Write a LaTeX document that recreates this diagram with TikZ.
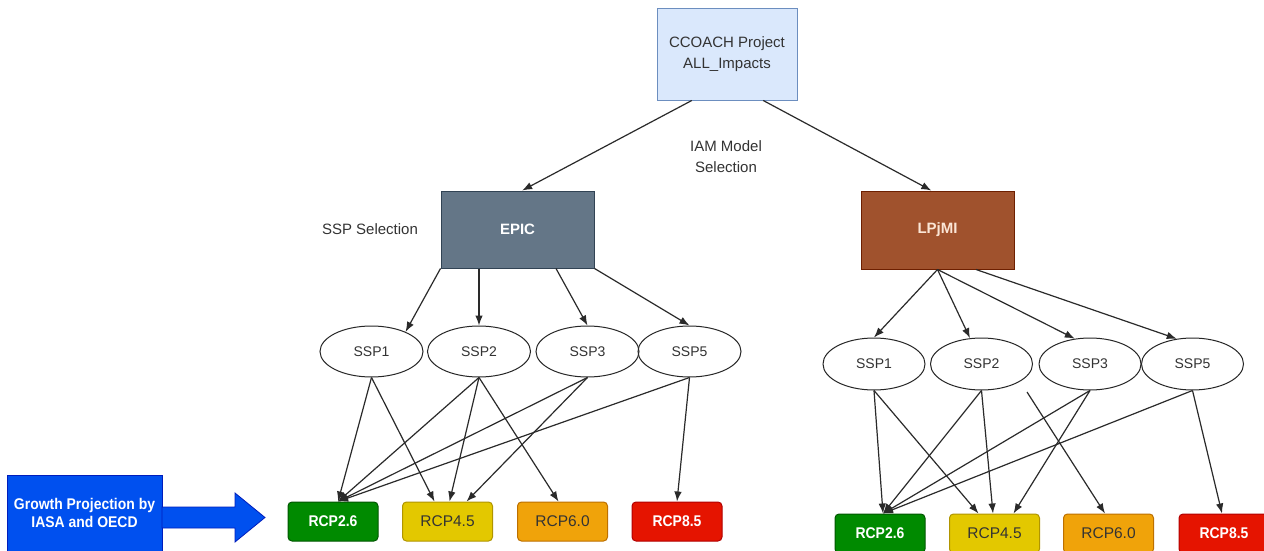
\documentclass[tikz,border=0pt]{standalone}
\usepackage{fontspec}
\setmainfont{Liberation Sans}
\usetikzlibrary{calc,arrows.meta,shapes.geometric}
\definecolor{ccfill}{HTML}{DAE8FC}
\definecolor{ccdraw}{HTML}{6C8EBF}
\definecolor{epfill}{HTML}{647687}
\definecolor{epdraw}{HTML}{314354}
\definecolor{lpfill}{HTML}{A0522D}
\definecolor{lpdraw}{HTML}{6D1F00}
\definecolor{lptext}{HTML}{FBE6D6}
\definecolor{gfill}{HTML}{008A00}
\definecolor{gdraw}{HTML}{005700}
\definecolor{yfill}{HTML}{E3C800}
\definecolor{ydraw}{HTML}{B09500}
\definecolor{ofill}{HTML}{F0A30A}
\definecolor{odraw}{HTML}{BD7000}
\definecolor{rfill}{HTML}{E51400}
\definecolor{rdraw}{HTML}{B20000}
\definecolor{bfill}{HTML}{0050EF}
\definecolor{bdraw}{HTML}{001DBC}
\definecolor{txt}{HTML}{333333}
\definecolor{edge}{HTML}{2A2A2A}
\begin{document}
\begin{tikzpicture}[x=1pt,y=-1pt,
  box/.style={draw, line width=1pt, rectangle, inner sep=0pt, align=center},
  rcp/.style={box, rounded corners=4pt, minimum width=90pt, minimum height=39pt, font=\fontsize{15.5}{18}\selectfont},
  sspnode/.style={ellipse, draw=black!85, line width=1pt, inner sep=0pt, minimum width=103pt, minimum height=51pt, font=\fontsize{14}{16}\selectfont, text=txt},
  lbl/.style={align=center, text=txt, font=\fontsize{15}{21}\selectfont},
  arr/.style={draw=edge, line width=1.2pt, -{Latex[length=10pt,width=7.5pt]}}
]
\useasboundingbox (0,0) rectangle (1264,551);
\fill[white] (0,0) rectangle (1264,551);

% top
\node[box, fill=ccfill, draw=ccdraw, minimum width=140pt, minimum height=91pt, text=txt, font=\fontsize{15}{21}\selectfont] (cc) at (727,54.5) {CCOACH Project\\ALL\_Impacts};
\node[lbl] (iam) at (726,157) {IAM Model\\Selection};
\node[lbl] (sspsel) at (370,229) {SSP Selection};

% models
\node[box, fill=epfill, draw=epdraw, minimum width=153pt, minimum height=77pt, text=white, font=\fontsize{15}{18}\selectfont\bfseries] (epic) at (517.5,229.5) {EPIC};
\node[box, fill=lpfill, draw=lpdraw, minimum width=153pt, minimum height=78pt, text=lptext, font=\fontsize{15}{18}\selectfont\bfseries] (lpj) at (937.5,230) {LPjMI};

% SSP left
\node[sspnode] (l1) at (371.5,351.5) {SSP1};
\node[sspnode] (l2) at (479,351.5) {SSP2};
\node[sspnode] (l3) at (587.5,351.5) {SSP3};
\node[sspnode] (l5) at (689.5,351.5) {SSP5};
% SSP right
\node[sspnode, minimum width=102pt, minimum height=52pt] (r1) at (874,364) {SSP1};
\node[sspnode, minimum width=102pt, minimum height=52pt] (r2) at (981.5,364) {SSP2};
\node[sspnode, minimum width=102pt, minimum height=52pt] (r3) at (1090,364) {SSP3};
\node[sspnode, minimum width=102pt, minimum height=52pt] (r5) at (1192.5,364) {SSP5};

% RCP left
\node[rcp, fill=gfill, draw=gdraw, text=white, font=\fontsize{15.5}{18}\selectfont\bfseries] (a26) at (333,521.5) {\scalebox{0.9}[1]{RCP2.6}};
\node[rcp, fill=yfill, draw=ydraw, text=txt] (a45) at (447.5,521.5) {RCP4.5};
\node[rcp, fill=ofill, draw=odraw, text=txt] (a60) at (562.5,521.5) {RCP6.0};
\node[rcp, fill=rfill, draw=rdraw, text=white, font=\fontsize{15.5}{18}\selectfont\bfseries] (a85) at (677,521.5) {\scalebox{0.9}[1]{RCP8.5}};
% RCP right
\node[rcp, fill=gfill, draw=gdraw, text=white, font=\fontsize{15.5}{18}\selectfont\bfseries] (b26) at (880,533.5) {\scalebox{0.9}[1]{RCP2.6}};
\node[rcp, fill=yfill, draw=ydraw, text=txt] (b45) at (994.5,533.5) {RCP4.5};
\node[rcp, fill=ofill, draw=odraw, text=txt] (b60) at (1108.5,533.5) {RCP6.0};
\node[rcp, fill=rfill, draw=rdraw, text=white, font=\fontsize{15.5}{18}\selectfont\bfseries] (b85) at (1224,533.5) {\scalebox{0.9}[1]{RCP8.5}};

% growth projection box and block arrow
\node[box, fill=bfill, draw=bdraw, minimum width=155pt, minimum height=76pt, text=white, font=\fontsize{15.5}{18}\selectfont\bfseries] (gp) at (84.5,513) {\scalebox{0.9}[1]{Growth Projection by}\\\scalebox{0.9}[1]{IASA and OECD}};
\fill[bfill, draw=bdraw, line width=0.8pt] (162,507) -- (235,507) -- (235,493) -- (265,517.5) -- (235,542) -- (235,528) -- (162,528) -- cycle;

% top edges
\draw[arr] ($(cc.south west)!0.25!(cc.south east)$) -- ($(epic.north west)!0.53!(epic.north east)$);
\draw[arr] ($(cc.south west)!0.757!(cc.south east)$) -- ($(lpj.north west)!0.46!(lpj.north east)$);

% EPIC -> SSP
\draw[arr] (epic.south west) -- (l1.30);
\draw[arr] (l2.north |- epic.south) -- (l2.north);
\draw[arr] ($(epic.south west)!0.75!(epic.south east)$) -- (l3.north);
\draw[arr] (epic.south east) -- (l5.north);

% LPjMI -> SSP
\draw[arr] (lpj.south) -- (r1.north);
\draw[arr] (lpj.south) -- (r2.114);
\draw[arr] (lpj.south) -- (r3.121);
\draw[arr] ($(lpj.south west)!0.75!(lpj.south east)$) -- (r5.122);

% left SSP -> RCP
\coordinate (t26) at ([xshift=5pt]a26.north);
\draw[arr] (l1.south) -- (t26);
\draw[arr] (l1.south) -- ([xshift=-13pt]a45.north);
\draw[arr] (l2.south) -- (t26);
\draw[arr] (l2.south) -- ([xshift=2pt]a45.north);
\draw[arr] (l2.south) -- ([xshift=-4pt]a60.north);
\draw[arr] (l3.south) -- (t26);
\draw[arr] (l3.south) -- ([xshift=19pt]a45.north);
\draw[arr] (l5.south) -- (t26);
\draw[arr] (l5.south) -- (a85.north);

% right SSP -> RCP
\coordinate (u26) at ([xshift=3pt]b26.north);
\coordinate (free) at (1027,392);
\draw[arr] (r1.south) -- (u26);
\draw[arr] (r1.south) -- ([xshift=-16pt]b45.north);
\draw[arr] (r2.south) -- (u26);
\draw[arr] (r2.south) -- ([xshift=-1.5pt]b45.north);
\draw[arr] (free) -- ([xshift=-3.5pt]b60.north);
\draw[arr] (r3.south) -- (u26);
\draw[arr] (r3.south) -- ([xshift=19pt]b45.north);
\draw[arr] (r5.south) -- (u26);
\draw[arr] (r5.south) -- ([xshift=-2pt]b85.north);
\end{tikzpicture}
\end{document}
